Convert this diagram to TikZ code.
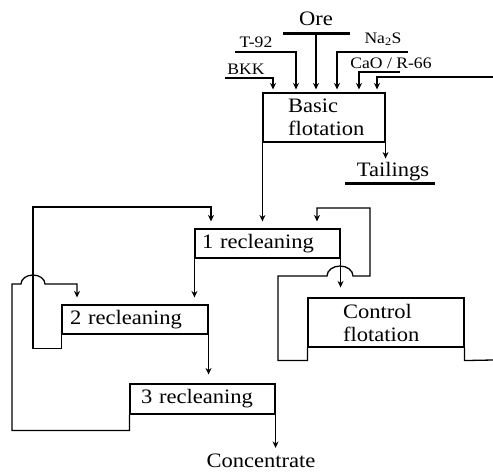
\documentclass[tikz,border=0pt]{standalone}
\usepackage{fontspec}
\setmainfont{Liberation Serif}[FakeStretch=1.1]
\usetikzlibrary{arrows.meta,positioning,calc}
\tikzset{
  >={Stealth[length=6.5pt,width=6pt]},
  txt/.style={font=\fontsize{20.5}{23}\selectfont,inner sep=1pt,align=left},
  box/.style={txt,draw,line width=1.1pt,inner sep=0pt},
  lab/.style={font=\fontsize{16}{18}\selectfont,inner sep=1pt},
  flow/.style={line width=1.3pt},
  arr/.style={flow,->,shorten >=#1},
  arr/.default=6pt,
  bar/.style={line width=3pt},
}
\begin{document}
\begin{tikzpicture}[x=1pt,y=-1pt]
\useasboundingbox (0,0) rectangle (493,472);
% cells
\node[box,inner xsep=25pt,text width=72pt,minimum height=49pt] (basic) at (324,117.5) {Basic\\flotation};
\node[box,inner xsep=7pt,text width=131pt,minimum height=29pt] (rec1) at (267.5,243.5) {1 recleaning};
\node[box,inner xsep=8pt,text width=130pt,minimum height=29pt] (rec2) at (135,319.5) {2 recleaning};
\node[box,inner xsep=11pt,text width=123pt,minimum height=30pt] (rec3) at (202.5,399) {3 recleaning};
\node[box,inner xsep=35pt,text width=86pt,minimum height=49pt] (ctrl) at (386,322.5) {Control\\flotation};
% feed and reagents
\node[txt] (ore) at (316,19) {Ore};
\coordinate (oreL) at (283,33);
\coordinate (oreR) at (350,33);
\coordinate (orein) at (316,33);
\draw[bar] (oreL) -- (oreR);
\draw[arr=3pt] (orein) -- (orein |- basic.north);
\node[lab] (bkk) at (246,69) {BKK};
\coordinate (bkkin) at (225,78);
\draw[arr=3pt] (bkkin) -| (273,0 |- basic.north);
\node[lab] (t92) at (256,42) {T-92};
\coordinate (t92in) at (235,52);
\draw[arr=3pt] (t92in) -| (296,0 |- basic.north);
\node[lab] (nas) at (383,39) {Na\textsubscript{2}S};
\coordinate (nasin) at (408,52);
\draw[arr=3pt] (nasin) -| (337,0 |- basic.north);
\node[lab] (cao) at (391,63) {CaO / R-66};
\coordinate (caoin) at (400,72);
\draw[arr=3pt] (caoin) -| (359,0 |- basic.north);
\coordinate (retin) at (493,77);
\draw[arr=3pt] (retin) -| (377,0 |- basic.north);
% tailings
\node[txt] (tail) at (393,172) {Tailings};
\coordinate (tailL) at (345,183);
\coordinate (tailR) at (435,183);
\draw[bar] (tailL) -- (tailR);
\draw[arr=3pt] (basic.south east) -- (basic.south east |- tail.north);
% cleaning line
\draw[arr=7pt] (basic.south west) -- (basic.south west |- rec1.north);
\draw[arr=7pt] (rec1.south west) -- (rec1.south west |- rec2.north);
\draw[arr=9pt] (rec2.south east) -- (rec2.south east |- rec3.north);
\node[txt] (conc) at (261,461) {Concentrate};
\draw[arr=5pt] (rec3.south east) -- (rec3.south east |- conc.north);
\draw[arr=10pt] (rec1.south east) -- (rec1.south east |- ctrl.north);
% recycles
\draw[arr=7pt] (rec2.south west) -- ++(0,14) -| (33,207) -| (211,0 |- rec1.north);
\draw[arr=7pt] (rec3.south west) -- ++(0,16) -| (12,284) -- (21,284)
  arc[start angle=180,end angle=360,x radius=12,y radius=9] -| (77,0 |- rec2.north);
\draw[arr=7pt] (ctrl.south west) -- ++(0,13) -| (278,276) -- (327,276)
  arc[start angle=180,end angle=360,x radius=13,y radius=10] -| (370,208) -| (317,0 |- rec1.north);
\coordinate (ctrlout) at (493,360);
\draw[flow] (ctrl.south east) -- ++(0,13) -- (ctrlout);
\end{tikzpicture}
\end{document}
